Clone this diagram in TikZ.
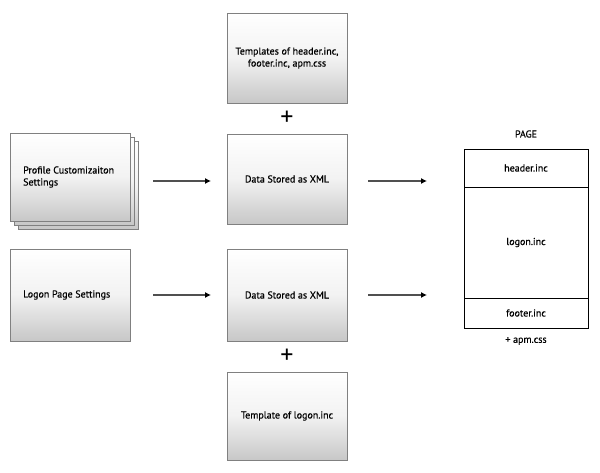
\documentclass[tikz,border=0pt]{standalone}
\usepackage{fontspec}
\setmainfont{PT Sans}
\newfontfamily\boxfont{PT Sans}[FakeBold=0.5]
\usetikzlibrary{arrows.meta}
\definecolor{boxedge}{HTML}{808080}
\definecolor{arrowgray}{HTML}{505050}
\tikzset{
  box/.style={draw=boxedge, line width=0.9pt, top color=white, bottom color=black!22, middle color=black!5,
    minimum width=120pt, minimum height=90pt, inner sep=0pt, align=center, font=\boxfont\fontsize{10}{12}\selectfont},
  backbox/.style={box, minimum height=88pt},
  flow/.style={draw=arrowgray, line width=1.1pt, -{Latex[length=6pt,width=6pt,color=black]}},
  plussign/.style={font=\fontsize{26}{26}\selectfont, inner sep=0pt},
  pagebox/.style={draw=black, line width=0.8pt, minimum width=124pt, inner sep=0pt, font=\boxfont\fontsize{10}{12}\selectfont},
  label/.style={font=\boxfont\fontsize{10}{12}\selectfont, inner sep=0pt}
}
\begin{document}
\begin{tikzpicture}[x=1pt,y=-1pt]
\useasboundingbox (0,0) rectangle (600,473);
% profile stack
\node[backbox] (pb2) at (78,185.5) {};
\node[backbox] (pb1) at (74,181) {};
\node[backbox] (prof) at (70,177) {};
\node[label, anchor=west, align=left] (proftext) at (23,177) {Profile Customizaiton\\Settings};
% logon settings
\node[box, minimum height=92pt] (logon) at (70,295) {};
\node[label, anchor=west] (logontext) at (23,295) {Logon Page Settings};
% middle column
\node[box] (tmpl) at (287,58) {Templates of header.inc,\\footer.inc, apm.css};
\node[plussign] (plus1) at (287,118) {+};
\node[box] (data1) at (287,179) {Data Stored as XML};
\node[box, minimum height=92pt] (data2) at (287,295) {Data Stored as XML};
\node[plussign] (plus2) at (287,356) {+};
\node[box, minimum height=88pt] (tlogon) at (287,416) {Template of logon.inc};
% arrows
\coordinate (a1s) at (153,181); \coordinate (a1e) at (211,181);
\coordinate (a2s) at (368,181); \coordinate (a2e) at (427,181);
\coordinate (a3s) at (153,295); \coordinate (a3e) at (211,295);
\coordinate (a4s) at (368,295); \coordinate (a4e) at (427,295);
\draw[flow] (a1s) -- (a1e);
\draw[flow] (a2s) -- (a2e);
\draw[flow] (a3s) -- (a3e);
\draw[flow] (a4s) -- (a4e);
% page
\node[label] (pagetitle) at (526,134) {PAGE};
\node[pagebox, minimum height=38pt] (header) at (526,168) {header.inc};
\node[pagebox, minimum height=111pt] (body) at (526,242.5) {logon.inc};
\node[pagebox, minimum height=30pt] (footer) at (526,313) {footer.inc};
\node[label] (apm) at (526,341) {+ apm.css};
\end{tikzpicture}
\end{document}
